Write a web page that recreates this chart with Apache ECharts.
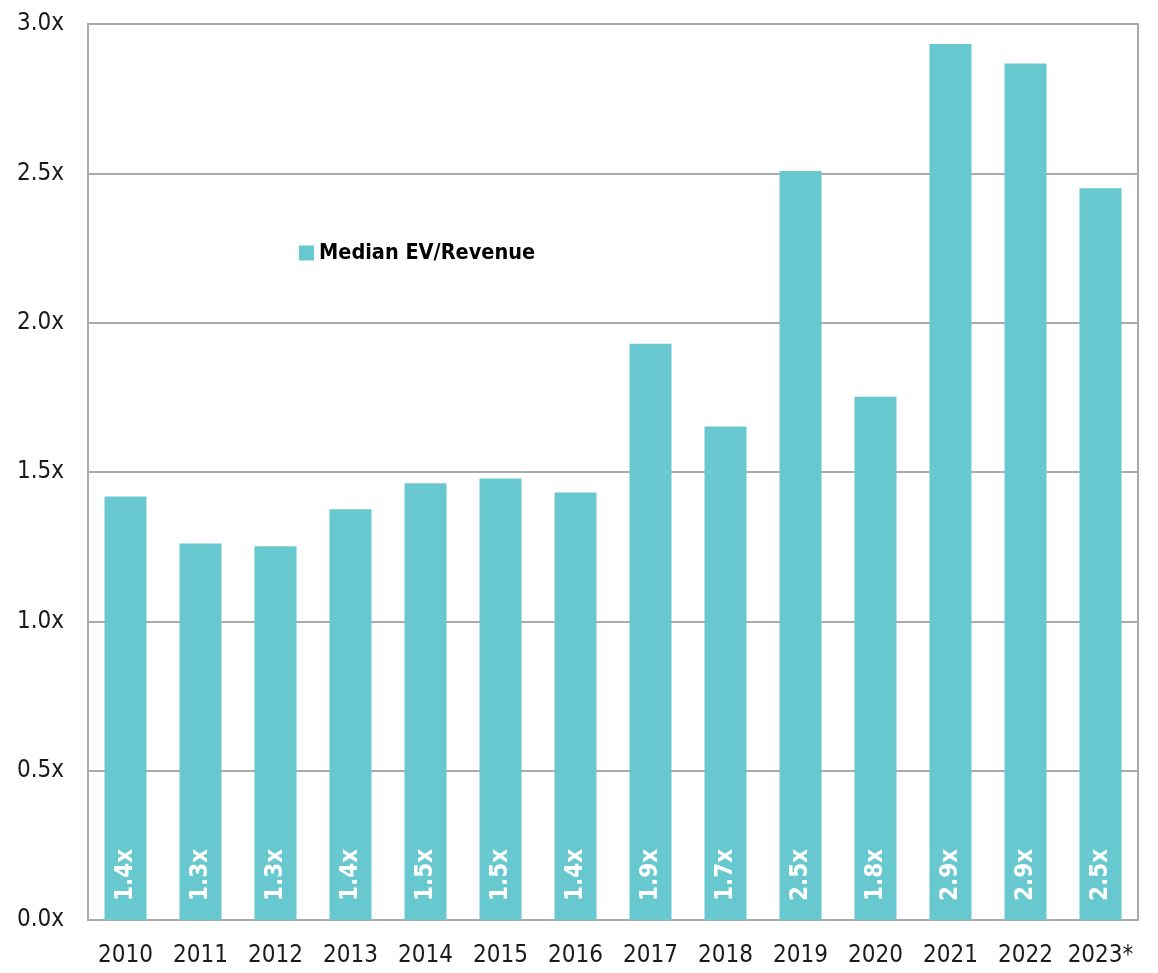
<!DOCTYPE html>
<html>
<head>
<meta charset="utf-8">
<script src="https://cdn.jsdelivr.net/npm/echarts@6/dist/echarts.min.js"></script>
<style>
  html, body { margin: 0; padding: 0; background: #fff; }
  #chart { width: 1158px; height: 973px; }
</style>
</head>
<body>
<div id="chart"></div>
<script>
// Median EV/Revenue multiple by year
const years = ['2010', '2011', '2012', '2013', '2014', '2015', '2016', '2017', '2018', '2019', '2020', '2021', '2022', '2023*'];
const evRevenue = [1.418, 1.261, 1.251, 1.375, 1.462, 1.478, 1.431, 1.929, 1.652, 2.508, 1.752, 2.933, 2.868, 2.45];
const seriesName = 'Median EV/Revenue';

const FONT = '"DejaVu Sans Condensed", "Liberation Sans Narrow", "Roboto", sans-serif';
const BAR = '#68C8CF';
const GRID = '#ababab';

const chart = echarts.init(document.getElementById('chart'));
chart.setOption({
  animation: false,
  backgroundColor: '#ffffff',
  textStyle: { fontFamily: FONT },
  grid: { left: 88, right: 20, top: 24, bottom: 53, show: true, borderColor: GRID, borderWidth: 2 },
  legend: {
    left: 294, top: 237,
    itemWidth: 15, itemHeight: 15, itemGap: 6,
    icon: 'rect',
    textStyle: { fontFamily: FONT, fontSize: 21.5, fontWeight: 'bold', color: '#000' },
    data: [seriesName]
  },
  xAxis: {
    type: 'category',
    data: years,
    axisLine: { show: false },
    axisTick: { show: false },
    axisLabel: { interval: 0, color: '#1a1a1a', fontSize: 24, margin: 24, fontFamily: FONT }
  },
  yAxis: {
    type: 'value',
    min: 0, max: 3, interval: 0.5,
    axisLine: { show: false },
    axisTick: { show: false },
    splitLine: { lineStyle: { color: GRID, width: 2 } },
    axisLabel: {
      color: '#1a1a1a', fontSize: 24, margin: 24, fontFamily: FONT,
      formatter: v => v.toFixed(1) + 'x'
    }
  },
  series: [{
    name: seriesName,
    type: 'bar',
    data: evRevenue,
    barWidth: '56%',
    itemStyle: { color: BAR },
    label: {
      show: true,
      position: 'insideBottom',
      rotate: 90,
      distance: 19,
      align: 'left',
      verticalAlign: 'middle',
      color: '#ffffff',
      fontFamily: FONT,
      fontWeight: 'bold',
      fontSize: 24,
      formatter: p => p.value.toFixed(1) + 'x'
    }
  }]
});
</script>
</body>
</html>
